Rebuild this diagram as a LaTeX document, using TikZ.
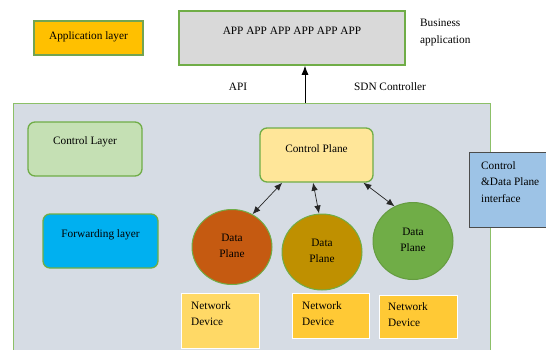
\documentclass[tikz,border=0pt]{standalone}
\usepackage{fontspec}
\setmainfont{Liberation Serif}
\usetikzlibrary{arrows.meta,calc,shapes.geometric}
\definecolor{gborder}{HTML}{70AD47}
\definecolor{mainborder}{HTML}{8CC068}
\definecolor{appgray}{HTML}{D9D9D9}
\definecolor{apporange}{HTML}{FFC000}
\definecolor{mainfill}{HTML}{D6DCE4}
\definecolor{ctrlgreen}{HTML}{C5E0B4}
\definecolor{fwdblue}{HTML}{00B0F0}
\definecolor{cpyellow}{HTML}{FFE699}
\definecolor{dporange}{HTML}{C55A11}
\definecolor{dpgold}{HTML}{BF9000}
\definecolor{dpgreen}{HTML}{70AD47}
\definecolor{ndlight}{HTML}{FFD966}
\definecolor{nddark}{HTML}{FFC935}
\definecolor{ifblue}{HTML}{9DC3E6}
\tikzset{
  box/.style={draw=gborder, line width=1.6pt, minimum width=#1, inner sep=0pt},
  rbox/.style={draw=gborder, line width=1.3pt, rounded corners=7pt, inner sep=0pt},
  dplane/.style={ellipse, draw=gborder, line width=1pt, inner sep=0pt, minimum width=80pt, minimum height=75pt},
  ndbox/.style={draw=white, line width=0.8pt, inner sep=0pt, minimum width=78pt, minimum height=50pt},
  lbl/.style={font=\fontsize{11.3}{13}\selectfont, inner sep=0pt, align=center},
  llbl/.style={font=\fontsize{11.3}{16.5}\selectfont, inner sep=0pt, align=left, anchor=north west},
  biarrow/.style={{Latex[length=8pt,width=6.5pt]}-{Latex[length=8pt,width=6.5pt]}, line width=0.7pt, draw=black!85},
}
\begin{document}
\begin{tikzpicture}[x=1pt,y=-1pt]
\useasboundingbox (0,0) rectangle (546,349);
% Application layer
\node[box=109pt, fill=apporange, draw=gborder!80!gray, line width=1.3pt, minimum height=34pt] (applayer) at (88.5,38) {};
\node[lbl] (applayertxt) at (88.5,37) {Application layer};
% APP box
\node[box=226pt, fill=appgray, minimum height=54pt] (appbox) at (292,38) {};
\node[lbl] (apptxt) at (292,31) {APP APP APP APP APP APP};
\node[llbl, font=\fontsize{11.3}{17}\selectfont] (business) at (420,19) {Business\\application};
% Main box
\node[draw=mainborder, line width=1.3pt, fill=mainfill, minimum width=477pt, minimum height=252pt, inner sep=0pt, anchor=north west] (main) at (13,103) {};
% arrow
\draw[-{Latex[length=9pt,width=7pt]}, line width=0.8pt] ($(main.north west)+(292,0)$) coordinate (arrbase) -- (arrbase |- appbox.south);
\node[lbl] (api) at (238,87) {API};
\node[lbl] (sdn) at (390,87) {SDN Controller};
% Control layer
\node[rbox, fill=ctrlgreen, minimum width=114pt, minimum height=54pt] (ctrllayer) at (85,149) {};
\node[lbl] (ctrltxt) at (85,142) {Control Layer};
% Forwarding layer
\node[rbox, fill=fwdblue, minimum width=115pt, minimum height=54pt] (fwd) at (100.5,241) {};
\node[lbl] (fwdtxt) at (100.5,235) {Forwarding layer};
% Control plane
\node[rbox, fill=cpyellow, minimum width=113pt, minimum height=54pt] (cp) at (316.5,155) {};
\node[lbl] (cptxt) at (316.5,149) {Control Plane};
% Data planes
\node[dplane, fill=dporange] (dp1) at (232,247) {};
\node[lbl, font=\fontsize{11.3}{16}\selectfont] (dp1txt) at (232,246) {Data\\Plane};
\node[dplane, fill=dpgold, minimum height=76pt] (dp2) at (322,252) {};
\node[lbl, font=\fontsize{11.3}{16}\selectfont] (dp2txt) at (322,251) {Data\\Plane};
\node[dplane, fill=dpgreen, draw=dpgreen!90!black, minimum height=77pt] (dp3) at (413,241) {};
\node[lbl, font=\fontsize{11.3}{16}\selectfont] (dp3txt) at (413,240) {Data\\Plane};
% arrows
\draw[biarrow] (dp1.58) -- ($(cp.south west)!0.2!(cp.south east)$);
\draw[biarrow] ($(dp2.north)+(-3,0)$) -- ($(cp.south west)!0.47!(cp.south east)$);
\draw[biarrow] (dp3.118) -- ($(cp.south west)!0.91!(cp.south east)$);
% network devices
\node[ndbox, fill=ndlight, minimum height=55pt] (nd1) at (220,320.5) {};
\node[llbl] (nd1txt) at (191,301) {Network\\Device};
\node[ndbox, fill=nddark, minimum width=77pt, minimum height=45pt] (nd2) at (330.5,315.5) {};
\node[llbl] (nd2txt) at (302,301) {Network\\Device};
\node[ndbox, fill=nddark, minimum height=43pt] (nd3) at (418,316.5) {};
\node[llbl] (nd3txt) at (388,302) {Network\\Device};
% interface
\node[draw=black!70, line width=1pt, fill=ifblue, minimum width=80pt, minimum height=75pt, inner sep=0pt, anchor=north west] (iface) at (469,152) {};
\node[llbl] (ifacetxt) at (481,161) {Control\\\&Data Plane\\interface};
\end{tikzpicture}
\end{document}
